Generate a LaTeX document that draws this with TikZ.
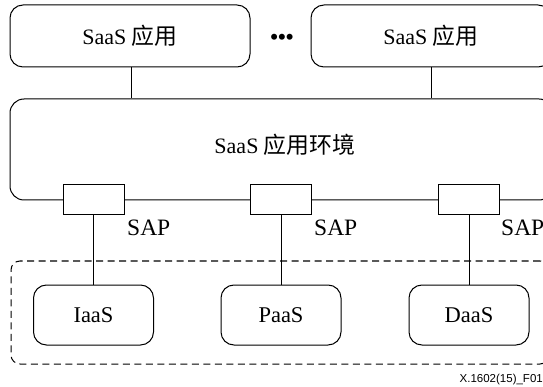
\documentclass[tikz,border=0pt]{standalone}
\usepackage{fontspec}
\setmainfont{Liberation Serif}
\newfontfamily\cjk[Scale=1.04]{Noto Sans CJK SC}
\newfontfamily\lblfont{Liberation Sans}
\begin{document}
\begin{tikzpicture}[x=1pt,y=-1pt,
  every node/.style={font=\fontsize{22}{26}\selectfont},
  rbox/.style={draw,line width=1pt,rounded corners=13pt,inner sep=0pt,fill=white},
  svc/.style={rbox,minimum width=120pt,minimum height=60pt,font=\fontsize{22.5}{26}\selectfont},
  sapbox/.style={draw,line width=1pt,fill=white,minimum width=61pt,minimum height=30pt,inner sep=0pt},
  conn/.style={line width=1pt},
  saplbl/.style={anchor=base west,inner sep=0pt,font=\fontsize{23.5}{26}\selectfont},
  grp/.style={draw,line width=1pt,dash pattern=on 7pt off 4.5pt,rounded corners=9pt}]
\useasboundingbox (0,0) rectangle (543,387);
\clip (0,0) rectangle (543,387);
% group (dashed)
\node[grp,minimum width=538pt,minimum height=103pt,inner sep=0pt] (grp) at (280,312.5) {};
% top applications
\node[rbox,minimum width=240pt,minimum height=62pt] (app1) at (130,36) {SaaS {\cjk 应用}};
\node[rbox,minimum width=240pt,minimum height=62pt] (app2) at (431,36) {SaaS {\cjk 应用}};
\node[inner sep=0pt] (dots) at (282,39) {\fontsize{22}{24}\selectfont\textbf{•••}};
% environment
\node[rbox,rounded corners=14pt,minimum width=543pt,minimum height=101pt] (env) at (281.5,149.5) {};
\node[inner sep=0pt] (envtxt) at (285,145) {SaaS {\cjk 应用环境}};
% SAP boxes
\node[sapbox] (sap1) at (93.5,200) {};
\node[sapbox] (sap2) at (281,200) {};
\node[sapbox] (sap3) at (469,200) {};
\node[saplbl] (l1) at (127,236) {SAP};
\node[saplbl] (l2) at (314,236) {SAP};
\node[saplbl] (l3) at (501,236) {SAP};
% services
\node[svc] (iaas) at (93.5,315) {IaaS};
\node[svc] (paas) at (281,315) {PaaS};
\node[svc] (daas) at (469,315) {DaaS};
% connectors
\draw[conn] (app1.south -| 131,0) -- (env.north -| 131,0);
\draw[conn] (app2.south) -- (env.north -| app2.south);
\draw[conn] (sap1) -- (iaas);
\draw[conn] (sap2) -- (paas);
\draw[conn] (sap3) -- (daas);
% redraw SAP boxes on top of lines
\node[sapbox] at (sap1) {};
\node[sapbox] at (sap2) {};
\node[sapbox] at (sap3) {};
\node[anchor=base east,inner sep=0pt,font=\lblfont\fontsize{11.5}{13}\selectfont] (fig) at (543,382) {X.1602(15)\_F01};
\end{tikzpicture}
\end{document}
